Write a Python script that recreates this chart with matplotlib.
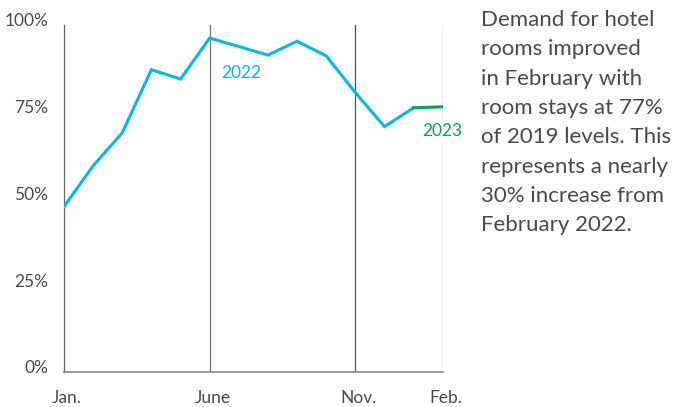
import matplotlib.pyplot as plt
from matplotlib.transforms import ScaledTranslation

# Hotel room demand, % of 2019 levels
months = ["Jan.", "Feb.", "Mar.", "Apr.", "May", "June", "July", "Aug.",
          "Sep.", "Oct.", "Nov.", "Dec.", "Jan.", "Feb."]
demand_2022 = [47.6, 59.4, 68.9, 87.1, 84.4, 96.2, 93.8, 91.3, 95.3, 91.1,
               80.5, 70.7, 76.1]
demand_2023 = [76.1, 76.4]

tick_idx = [0, 5, 10, 13]
tick_labels = ["Jan.", "June", "Nov.", "Feb."]
y_ticks = [0, 25, 50, 75, 100]
y_labels = ["0%", "25%", "50%", "75%", "100%"]

note = ("Demand for hotel\nrooms improved\nin February with\nroom stays at 77%\n"
        "of 2019 levels. This\nrepresents a nearly\n30% increase from\nFebruary 2022.")

plt.rcParams["font.family"] = ["Lato", "DejaVu Sans"]
text_col = "#4a4a4a"
blue = "#00b8ec"
green = "#00a650"

fig = plt.figure(figsize=(6.78, 4.07), dpi=100)
ax = fig.add_axes([0.0944, 0.0867, 0.5586, 0.852])

x22 = list(range(len(demand_2022)))
x23 = list(range(len(demand_2022) - 1, len(months)))

# vertical guide lines
ax.axvline(5, color="#777777", lw=0.9, zorder=1)
ax.axvline(10, color="#555555", lw=0.9, zorder=1)
ax.axvline(13, color="#999999", lw=0.9, zorder=1)

ax.plot(x22, demand_2022, color=blue, lw=2.2, solid_joinstyle="miter", zorder=3)
ax.plot(x23, demand_2023, color=green, lw=2.2, zorder=3)

ax.text(6.1, 86, "2022", color=blue, fontsize=12.5, ha="center", va="center")
ax.text(13, 69.5, "2023", color=green, fontsize=12.5, ha="center", va="center",
        bbox=dict(facecolor="white", edgecolor="none", pad=1.5), zorder=4)

ax.set_xlim(0, 13)
ax.set_ylim(0, 100)
ax.set_xticks(tick_idx)
ax.set_xticklabels(tick_labels)
ax.set_yticks(y_ticks)
ax.set_yticklabels(y_labels)
ax.tick_params(length=0, labelsize=12.5, colors=text_col)
ax.tick_params(axis="x", pad=13.5)
ax.tick_params(axis="y", pad=11.5)
for lab in ax.get_yticklabels():
    lab.set_transform(lab.get_transform() + ScaledTranslation(0, 5 / 100, fig.dpi_scale_trans))
# small nudge so labels sit centred like the original
for lab in ax.get_xticklabels():
    lab.set_transform(lab.get_transform() + ScaledTranslation(3 / 100, 0, fig.dpi_scale_trans))

for side in ["top", "right"]:
    ax.spines[side].set_visible(False)
ax.spines["left"].set_color("#666666")
ax.spines["left"].set_linewidth(0.9)
ax.spines["bottom"].set_color("#888888")
ax.spines["bottom"].set_linewidth(1.2)

fig.text(0.709, 0.975, note, fontsize=16, color=text_col, va="top", ha="left",
         linespacing=1.58)

fig.savefig("out.png", dpi=100)
